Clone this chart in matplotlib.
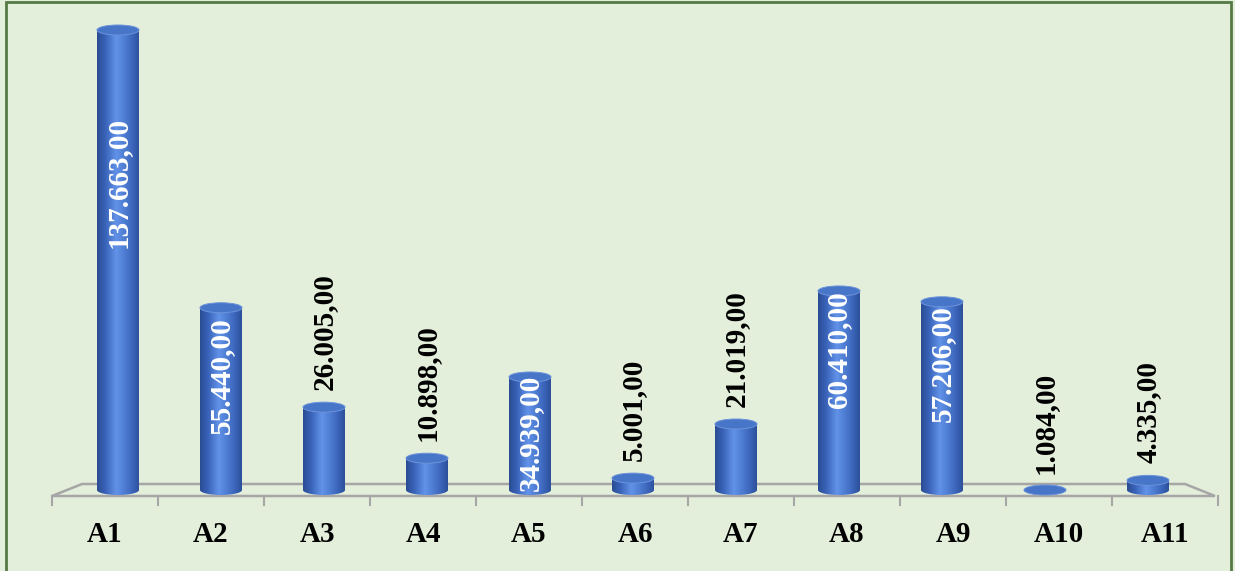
import numpy as np
import matplotlib
matplotlib.use("Agg")
import matplotlib.pyplot as plt
from matplotlib.patches import Ellipse, Polygon, Rectangle
from matplotlib.colors import LinearSegmentedColormap

categories = ["A1", "A2", "A3", "A4", "A5", "A6", "A7", "A8", "A9", "A10", "A11"]
values = [137663, 55440, 26005, 10898, 34939, 5001, 21019, 60410, 57206, 1084, 4335]
labels = ["137.663,00", "55.440,00", "26.005,00", "10.898,00", "34.939,00", "5.001,00",
          "21.019,00", "60.410,00", "57.206,00", "1.084,00", "4.335,00"]
inside = [True, True, False, False, True, False, False, True, True, False, False]

W, H = 1235, 571
fig = plt.figure(figsize=(W / 100, H / 100), dpi=100)
bg = "#E3EFDA"
fig.patch.set_facecolor(bg)
ax = fig.add_axes([0, 0, 1, 1])
ax.set_facecolor(bg)
ax.axis("off")

# pixel mapping
s = 465.0 / 137663.0          # px per unit
base_px = 490                 # pixel row (from top) of value 0
x0_px, step_px = 118, 103     # bar centers

def v(px):  # px height -> value units
    return px / s

def xi(px):  # pixel column -> index units
    return (px - x0_px) / step_px

ax.set_xlim(xi(0), xi(W))
ax.set_ylim(-v(H - base_px), v(base_px))

cmap = LinearSegmentedColormap.from_list(
    "cyl", [(0.0, "#2A4C92"), (0.2, "#3A64BA"), (0.45, "#6293E8"),
            (0.6, "#5282D8"), (0.85, "#3A63B8"), (1.0, "#2B4F99")])
grad = np.linspace(0, 1, 256).reshape(1, -1)

# floor
fl_front, fl_back = -v(6), v(6)
floor = Polygon([(xi(52), fl_front), (xi(1215), fl_front), (xi(1185), fl_back), (xi(82), fl_back)],
                closed=True, facecolor=bg, edgecolor="#A6A6A6", lw=1.8, zorder=1)
ax.add_patch(floor)
tick_x = np.linspace(xi(52), xi(1218), len(categories) + 1)
for tx in tick_x:
    ax.plot([tx, tx], [fl_front, fl_front - v(9)], color="#A6A6A6", lw=1.5, zorder=1)

bw = 42 / step_px
eh = v(5)
for i, val in enumerate(values):
    xl, xr = i - bw / 2, i + bw / 2
    ytop = max(val - eh, 0)
    th = np.linspace(np.pi, 2 * np.pi, 40)
    pts = [(i + bw / 2 * np.cos(t), eh * np.sin(t)) for t in th]
    pts += [(xr, ytop), (xl, ytop)]
    body = Polygon(pts, closed=True, facecolor="none", edgecolor="none", zorder=2)
    ax.add_patch(body)
    im = ax.imshow(grad, cmap=cmap, extent=[xl, xr, -eh, ytop + 0.01], aspect="auto",
                   zorder=2, interpolation="bilinear")
    im.set_clip_path(body)
    ax.add_patch(Ellipse((i, ytop), bw, 2 * eh, facecolor="#4775C8",
                         edgecolor="#6C93DA", lw=0.7, zorder=3))

label_offset_px = {0: 92, 1: 15, 4: 3, 7: 5, 8: 8}
fs = 21
for i, (val, lab, ins) in enumerate(zip(values, labels, inside)):
    if ins:
        ax.text(i, val - v(label_offset_px.get(i, 5)), lab, rotation=90, ha="center", va="top",
                color="white", fontsize=fs, fontweight="bold", family="Liberation Serif", zorder=4)
    else:
        ax.text(i, val + v(12), lab, rotation=90, ha="center", va="bottom",
                color="black", fontsize=fs, fontweight="bold", family="Liberation Serif", zorder=4)

for k, cat in enumerate(categories):
    cx = (tick_x[k] + tick_x[k + 1]) / 2
    ax.text(cx, -v(535 - base_px), cat, ha="center", va="center", color="black",
            fontsize=fs, fontweight="bold", family="Liberation Serif")

fig.patches.append(Rectangle((6 / W, -0.05), (1231 - 6) / W, (H - 2) / H + 0.05,
                             transform=fig.transFigure, facecolor="none",
                             edgecolor="#557A44", lw=2))

fig.savefig("out.png", dpi=100, facecolor=bg)
